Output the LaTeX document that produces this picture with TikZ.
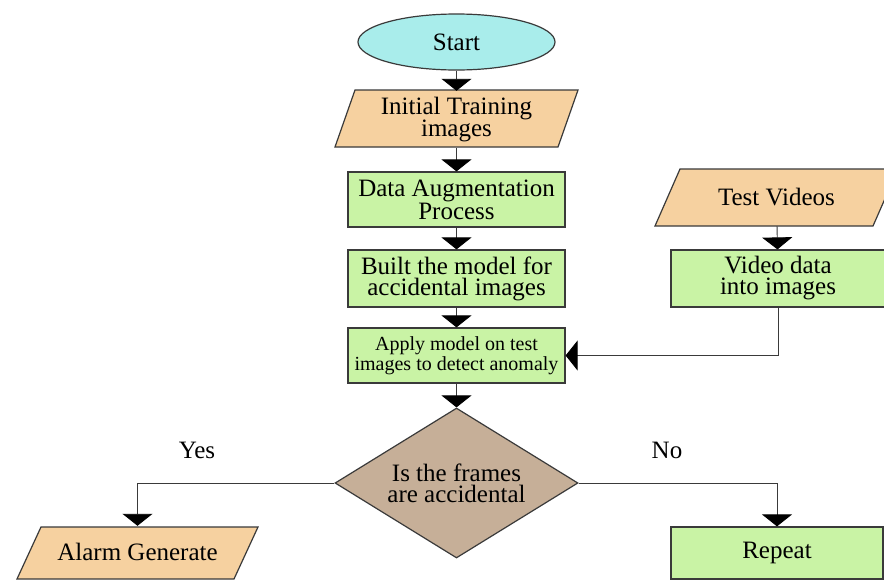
\documentclass[tikz,border=0pt]{standalone}
\usepackage{fontspec}
\setmainfont{Liberation Serif}
\usetikzlibrary{arrows.meta,shapes.geometric}
\definecolor{cyanfill}{HTML}{A9EDEB}
\definecolor{orangefill}{HTML}{F6D1A0}
\definecolor{greenfill}{HTML}{C9F3A5}
\definecolor{tanfill}{HTML}{C6AF98}
\definecolor{edgegray}{HTML}{3A3A3A}
\newcommand\parallelo[5]{% cx cy toplength height slant
  \filldraw[parashape] ({#1-#3/2+#5/2},{#2-#4/2}) -- ({#1+#3/2+#5/2},{#2-#4/2})
    -- ({#1+#3/2-#5/2},{#2+#4/2}) -- ({#1-#3/2-#5/2},{#2+#4/2}) -- cycle;}
\begin{document}
\begin{tikzpicture}[x=1pt,y=-1pt,
  big/.style={font=\fontsize{25}{21}\selectfont, align=center},
  small/.style={font=\fontsize{20}{20.5}\selectfont, align=center},
  parashape/.style={draw=edgegray, line width=1.2pt, fill=orangefill},
  paratext/.style={big, inner sep=0pt},
  procbox/.style={big, draw=edgegray, line width=1.2pt, fill=greenfill,
    minimum width=217pt, minimum height=55pt, inner sep=0pt},
  startbox/.style={big, ellipse, draw=edgegray, line width=1.2pt, fill=cyanfill,
    minimum width=197pt, minimum height=56pt, inner sep=0pt},
  decbox/.style={big, diamond, aspect=1.62, draw=edgegray, line width=1.2pt, fill=tanfill,
    minimum width=243pt, minimum height=150pt, inner sep=0pt},
  conn/.style={draw=edgegray, line width=0.9pt, -{Triangle[width=30pt,length=12pt,black]}},
  lbl/.style={big, inner sep=0pt, anchor=base}
]
\clip (0,0) rectangle (884,581);
\fill[white] (0,0) rectangle (884,581);

\node[startbox] (start) at (456.5,42) {Start};

\parallelo{456.5}{118.5}{223}{57}{20}
\node[paratext, minimum width=223pt, minimum height=57pt] (init) at (456.5,119.5) {Initial Training\\images};

\node[procbox] (aug) at (456.5,199.5) {Data Augmentation\\Process};
\node[procbox, minimum height=57pt] (built) at (456.5,278.5) {Built the model for\\accidental images};
\node[procbox, small] (apply) at (456.5,355.5) {Apply model on test\\images to detect anomaly};

\node[decbox] (dec) at (456.5,483) {Is the frames\\are accidental};

\parallelo{776.5}{197.5}{218}{57}{25}
\node[paratext, minimum width=218pt, minimum height=57pt] (test) at (776.5,197.5) {Test Videos};
\node[procbox, minimum width=214pt, minimum height=57pt] (video) at (778,278.5) {Video data\\into images};

\parallelo{137.5}{553}{217}{52}{24}
\node[paratext, minimum width=217pt, minimum height=52pt] (alarm) at (137.5,552) {Alarm Generate};
\node[procbox, minimum width=212pt, minimum height=52pt] (repeat) at (777,553) {Repeat};

\node[lbl] (yes) at (197,458) {Yes};
\node[lbl] (no) at (667,458) {No};

\draw[conn] (start) -- (init.north);
\draw[conn] (init.south) -- (aug);
\draw[conn] (aug) -- (built);
\draw[conn] (built) -- (apply);
\draw[conn] (apply) -- (dec);
\draw[conn] (test) -- (video);
\draw[conn] (video.south) |- (apply.east);
\draw[conn] (dec.west) -| (alarm.north);
\draw[conn] (dec.east) -| (repeat.north);
\end{tikzpicture}
\end{document}
